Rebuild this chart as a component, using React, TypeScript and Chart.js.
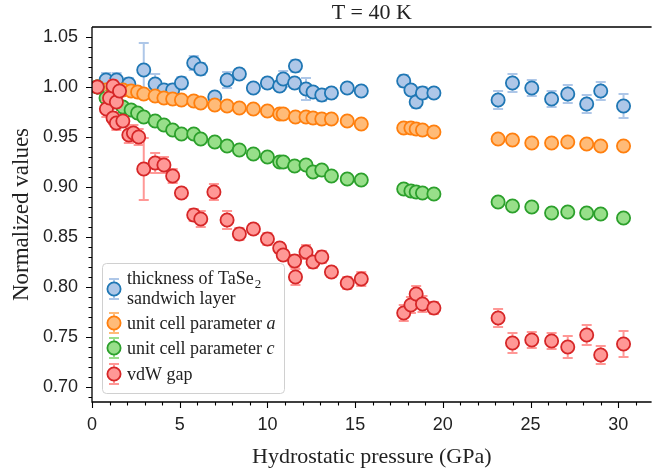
import React, { useEffect, useRef } from "react";
import { Chart, registerables } from "chart.js";

Chart.register(...registerables);

// ---------------- data ----------------
const thicknessP = [0.3, 0.8, 1.4, 2.1, 2.95, 3.6, 4.1, 4.6, 5.1, 5.8, 6.2, 7.0, 7.7, 8.4, 9.2, 10.0, 10.7, 10.9, 11.55, 11.6, 12.2, 12.6, 13.1, 13.65, 14.55, 15.35, 17.77, 18.18, 18.48, 18.84, 19.49, 23.15, 23.97, 25.07, 26.2, 27.12, 28.2, 29.0, 30.3];
const thicknessV = [1.0, 1.007, 1.007, 1.003, 1.017, 1.003, 0.997, 0.997, 1.004, 1.024, 1.018, 0.99, 1.007, 1.013, 0.999, 1.004, 1.001, 1.008, 1.004, 1.021, 0.998, 0.995, 0.992, 0.994, 0.999, 0.996, 1.006, 0.997, 0.985, 0.994, 0.994, 0.987, 1.004, 0.999, 0.988, 0.993, 0.983, 0.996, 0.981];
const thicknessErr = [0.004, 0.007, 0.007, 0.006, 0.027, 0.01, 0.005, 0.006, 0.006, 0.007, 0.006, 0.005, 0.008, 0.005, 0.004, 0.005, 0.005, 0.008, 0.005, 0.006, 0.011, 0.005, 0.006, 0.005, 0.005, 0.005, 0.006, 0.005, 0.006, 0.006, 0.005, 0.009, 0.009, 0.008, 0.008, 0.009, 0.009, 0.009, 0.012];

const paramAP = [0.3, 0.8, 1.2, 1.76, 2.23, 2.6, 2.95, 3.6, 4.1, 4.6, 5.1, 5.8, 6.2, 7.0, 7.7, 8.4, 9.2, 10.0, 10.7, 10.9, 11.6, 12.2, 12.6, 13.1, 13.65, 14.55, 15.35, 17.77, 18.18, 18.48, 18.84, 19.49, 23.15, 23.97, 25.07, 26.2, 27.12, 28.2, 29.0, 30.3];
const paramAV = [1.0, 0.997, 0.9985, 0.997, 0.996, 0.995, 0.993, 0.991, 0.989, 0.988, 0.987, 0.986, 0.984, 0.982, 0.981, 0.979, 0.978, 0.976, 0.973, 0.973, 0.97, 0.97, 0.969, 0.968, 0.968, 0.966, 0.963, 0.959, 0.959, 0.958, 0.957, 0.955, 0.948, 0.947, 0.944, 0.944, 0.945, 0.943, 0.941, 0.941];
const paramAErr = [0.001, 0.002, 0.002, 0.002, 0.002, 0.002, 0.002, 0.002, 0.002, 0.002, 0.002, 0.002, 0.002, 0.002, 0.002, 0.002, 0.002, 0.002, 0.002, 0.002, 0.002, 0.002, 0.002, 0.002, 0.002, 0.002, 0.002, 0.002, 0.002, 0.002, 0.002, 0.002, 0.002, 0.002, 0.002, 0.002, 0.002, 0.002, 0.002, 0.002];

const paramCP = [0.3, 0.8, 1.2, 1.76, 2.23, 2.6, 2.95, 3.6, 4.1, 4.6, 5.1, 5.8, 6.2, 7.0, 7.7, 8.4, 9.2, 10.0, 10.7, 10.9, 11.55, 12.2, 12.6, 13.1, 13.65, 14.55, 15.35, 17.77, 18.18, 18.48, 18.84, 19.49, 23.15, 23.97, 25.07, 26.2, 27.12, 28.2, 29.0, 30.3];
const paramCV = [1.0, 0.989, 0.985, 0.98, 0.977, 0.974, 0.97, 0.966, 0.962, 0.957, 0.953, 0.953, 0.948, 0.945, 0.941, 0.937, 0.933, 0.93, 0.925, 0.925, 0.921, 0.922, 0.915, 0.917, 0.911, 0.908, 0.907, 0.898, 0.896, 0.895, 0.894, 0.893, 0.885, 0.881, 0.88, 0.874, 0.875, 0.874, 0.873, 0.869];
const paramCErr = [0.001, 0.002, 0.002, 0.002, 0.002, 0.002, 0.002, 0.002, 0.002, 0.002, 0.002, 0.002, 0.002, 0.002, 0.002, 0.002, 0.002, 0.002, 0.002, 0.002, 0.002, 0.002, 0.002, 0.002, 0.002, 0.002, 0.002, 0.002, 0.002, 0.002, 0.002, 0.002, 0.002, 0.002, 0.002, 0.002, 0.002, 0.002, 0.002, 0.002];

const vdwP = [0.3, 0.82, 1.0, 1.2, 1.2, 1.39, 1.39, 1.57, 1.76, 2.1, 2.36, 2.66, 2.95, 3.6, 4.1, 4.6, 5.1, 5.8, 6.2, 6.95, 7.7, 8.4, 9.2, 10.0, 10.7, 10.9, 11.55, 11.6, 12.2, 12.6, 13.1, 13.65, 14.55, 15.35, 17.77, 18.18, 18.48, 18.84, 19.49, 23.15, 23.97, 25.07, 26.2, 27.12, 28.2, 29.0, 30.3];
const vdwV = [1.0, 0.978, 0.989, 1.001, 0.969, 0.985, 0.964, 0.996, 0.966, 0.952, 0.954, 0.95, 0.918, 0.924, 0.922, 0.911, 0.894, 0.872, 0.868, 0.895, 0.867, 0.853, 0.858, 0.848, 0.839, 0.832, 0.826, 0.81, 0.835, 0.825, 0.83, 0.815, 0.804, 0.808, 0.774, 0.782, 0.793, 0.783, 0.779, 0.769, 0.744, 0.747, 0.746, 0.74, 0.752, 0.732, 0.743];
const vdwErr = [0.004, 0.008, 0.006, 0.006, 0.006, 0.006, 0.007, 0.005, 0.005, 0.008, 0.008, 0.008, 0.031, 0.01, 0.008, 0.007, 0.005, 0.006, 0.008, 0.008, 0.009, 0.006, 0.005, 0.006, 0.005, 0.005, 0.006, 0.008, 0.007, 0.006, 0.006, 0.005, 0.006, 0.007, 0.008, 0.008, 0.008, 0.008, 0.006, 0.009, 0.01, 0.008, 0.008, 0.011, 0.01, 0.009, 0.013];

const xTickValues = [0, 5, 10, 15, 20, 25, 30];
const yTickValues = [0.7, 0.75, 0.8, 0.85, 0.9, 0.95, 1.0, 1.05];

const titleText = "T = 40 K";
const xTitle = "Hydrostatic pressure (GPa)";
const yTitle = "Normalized values";

// ---------------- styling ----------------
const SERIF = "'Liberation Serif', serif";
const SANS = "'Liberation Sans', sans-serif";
const X_MIN = 0;
const X_MAX = 31.9;
const Y_MIN = 0.685;
const Y_MAX = 1.06;

const seriesDefs = [
  { key: "thick", p: thicknessP, v: thicknessV, e: thicknessErr, line: "#1f77b4", fill: "#aec7e8", err: "#aec7e8", order: 4 },
  { key: "a", p: paramAP, v: paramAV, e: paramAErr, line: "#ff7f0e", fill: "#ffbb78", err: "#ffbb78", order: 3 },
  { key: "c", p: paramCP, v: paramCV, e: paramCErr, line: "#2ca02c", fill: "#98df8a", err: "#98df8a", order: 2 },
  { key: "vdw", p: vdwP, v: vdwV, e: vdwErr, line: "#d62728", fill: "#ff9896", err: "#ff9896", order: 1 },
];

const R = 6.6;
const BW = 1.8;
const CAP = 5;

function drawMarkerIcon(ctx: CanvasRenderingContext2D, x: number, y: number, s: any) {
  ctx.save();
  ctx.strokeStyle = s.err;
  ctx.lineWidth = 2;
  ctx.beginPath();
  ctx.moveTo(x, y - 10);
  ctx.lineTo(x, y + 10);
  ctx.moveTo(x - CAP, y - 10);
  ctx.lineTo(x + CAP, y - 10);
  ctx.moveTo(x - CAP, y + 10);
  ctx.lineTo(x + CAP, y + 10);
  ctx.stroke();
  ctx.beginPath();
  ctx.arc(x, y, R, 0, Math.PI * 2);
  ctx.fillStyle = s.fill;
  ctx.fill();
  ctx.lineWidth = BW;
  ctx.strokeStyle = s.line;
  ctx.stroke();
  ctx.restore();
}

export default function App() {
  const ref = useRef<HTMLCanvasElement>(null);

  useEffect(() => {
    if (!ref.current) return;

    const errorBars = {
      id: "errorBars",
      beforeDatasetDraw(chart: any, args: any) {
        const i = args.index;
        const def = seriesDefs[i];
        const meta = chart.getDatasetMeta(i);
        const ys = chart.scales.y;
        const ctx = chart.ctx;
        const ca = chart.chartArea;
        ctx.save();
        ctx.beginPath();
        ctx.rect(ca.left, ca.top, ca.right - ca.left, ca.bottom - ca.top);
        ctx.clip();
        ctx.strokeStyle = def.err;
        ctx.lineWidth = 2;
        meta.data.forEach((pt: any, j: number) => {
          const e = def.e[j] ?? 0;
          const v = def.v[j];
          const y1 = ys.getPixelForValue(v + e);
          const y2 = ys.getPixelForValue(v - e);
          const x = pt.x;
          ctx.beginPath();
          ctx.moveTo(x, y1);
          ctx.lineTo(x, y2);
          ctx.moveTo(x - CAP, y1);
          ctx.lineTo(x + CAP, y1);
          ctx.moveTo(x - CAP, y2);
          ctx.lineTo(x + CAP, y2);
          ctx.stroke();
        });
        ctx.restore();
      },
    };

    const frame = {
      id: "frame",
      afterDraw(chart: any) {
        const ctx = chart.ctx;
        const ca = chart.chartArea;
        const xs = chart.scales.x;
        const ys = chart.scales.y;
        ctx.save();
        ctx.strokeStyle = "#000";
        ctx.lineWidth = 1.3;
        ctx.beginPath();
        ctx.moveTo(ca.left, ca.top);
        ctx.lineTo(ca.left, ca.bottom);
        ctx.lineTo(ca.right, ca.bottom);
        ctx.moveTo(ca.left, ca.top);
        ctx.lineTo(ca.right, ca.top);
        ctx.stroke();
        ctx.lineWidth = 1.1;
        ctx.beginPath();
        for (let k = 0; k <= 31; k++) {
          const px = Math.round(xs.getPixelForValue(k)) + 0.5;
          const len = k % 5 === 0 ? 6 : 3.5;
          ctx.moveTo(px, ca.bottom);
          ctx.lineTo(px, ca.bottom + len);
        }
        for (let k = 69; k <= 105; k++) {
          const py = Math.round(ys.getPixelForValue(k / 100)) + 0.5;
          const len = k % 5 === 0 ? 6 : 3.5;
          ctx.moveTo(ca.left, py);
          ctx.lineTo(ca.left - len, py);
        }
        ctx.stroke();

        // title
        ctx.fillStyle = "#222";
        ctx.textAlign = "center";
        ctx.textBaseline = "middle";
        ctx.font = `22px ${SERIF}`;
        const cx = (ca.left + ca.right) / 2;
        ctx.fillText(titleText, cx, 13);
        // x title
        ctx.font = `22px ${SERIF}`;
        ctx.fillText(xTitle, cx, 457);
        // y title
        ctx.save();
        ctx.translate(22, (ca.top + ca.bottom) / 2);
        ctx.rotate(-Math.PI / 2);
        ctx.font = `23px ${SERIF}`;
        ctx.fillText(yTitle, 0, 0);
        ctx.restore();

        // legend
        const lx = 102, ly = 263, lw = 182, lh = 130;
        ctx.save();
        ctx.beginPath();
        (ctx as any).roundRect(lx + 0.5, ly + 0.5, lw, lh, 4);
        ctx.fillStyle = "rgba(255,255,255,0.85)";
        ctx.fill();
        ctx.strokeStyle = "#d0d0d0";
        ctx.lineWidth = 1;
        ctx.stroke();
        ctx.restore();

        const ix = 114;
        const tx = 127;
        const fs = 18;
        ctx.textAlign = "left";
        ctx.textBaseline = "alphabetic";
        ctx.fillStyle = "#222";
        // entry 1
        drawMarkerIcon(ctx, ix, 289, seriesDefs[0]);
        ctx.font = `${fs}px ${SERIF}`;
        const t1 = "thickness of TaSe";
        ctx.fillText(t1, tx, 284);
        const w1 = ctx.measureText(t1).width;
        ctx.font = `13px ${SERIF}`;
        ctx.fillText("2", tx + w1 + 1, 288);
        ctx.font = `${fs}px ${SERIF}`;
        ctx.fillText("sandwich layer", tx, 304);
        // entry 2
        drawMarkerIcon(ctx, ix, 323, seriesDefs[1]);
        const t2 = "unit cell parameter ";
        ctx.fillText(t2, tx, 329);
        const w = ctx.measureText(t2).width;
        ctx.font = `italic ${fs}px ${SERIF}`;
        ctx.fillText("a", tx + w, 329);
        // entry 3
        ctx.font = `${fs}px ${SERIF}`;
        drawMarkerIcon(ctx, ix, 348, seriesDefs[2]);
        ctx.fillText(t2, tx, 354);
        ctx.font = `italic ${fs}px ${SERIF}`;
        ctx.fillText("c", tx + w, 354);
        // entry 4
        ctx.font = `${fs}px ${SERIF}`;
        drawMarkerIcon(ctx, ix, 374, seriesDefs[3]);
        ctx.fillText("vdW gap", tx, 380);
        ctx.restore();
      },
    };

    const datasets = seriesDefs.map((s) => ({
      label: s.key,
      data: s.p.map((x, j) => ({ x, y: s.v[j] })),
      backgroundColor: s.fill,
      borderColor: s.line,
      pointRadius: R,
      pointBorderWidth: BW,
      pointHoverRadius: R,
      showLine: false,
      order: s.order,
    }));

    const chart = new Chart(ref.current, {
      type: "scatter",
      data: { datasets },
      options: {
        responsive: false,
        animation: false,
        events: [],
        layout: { padding: { top: 27, right: 0, left: 0, bottom: 0 } },
        plugins: { legend: { display: false }, tooltip: { enabled: false }, title: { display: false } },
        scales: {
          x: {
            type: "linear",
            min: X_MIN,
            max: X_MAX,
            afterFit: (s: any) => { s.height = 73; },
            afterBuildTicks: (s: any) => { s.ticks = xTickValues.map((v) => ({ value: v })); },
            grid: { display: false, drawTicks: false },
            border: { display: false },
            ticks: {
              includeBounds: false,
              padding: 12,
              color: "#222",
              font: { family: SANS, size: 18 },
              callback: (v: any) => String(v),
              maxRotation: 0,
            },
          },
          y: {
            type: "linear",
            min: Y_MIN,
            max: Y_MAX,
            afterFit: (s: any) => { s.width = 92; },
            afterBuildTicks: (s: any) => { s.ticks = yTickValues.map((v) => ({ value: v })); },
            grid: { display: false, drawTicks: false },
            border: { display: false },
            ticks: {
              includeBounds: false,
              padding: 14,
              color: "#222",
              font: { family: SANS, size: 18 },
              callback: (v: any) => Number(v).toFixed(2),
            },
          },
        },
      },
      plugins: [errorBars, frame],
    } as any);

    return () => chart.destroy();
  }, []);

  return (
    <div style={{ position: "fixed", left: 0, top: 0, width: 653, height: 475, overflow: "hidden", background: "#fff" }}>
      <canvas ref={ref} width={660} height={475} style={{ width: 660, height: 475, display: "block" }} />
    </div>
  );
}
